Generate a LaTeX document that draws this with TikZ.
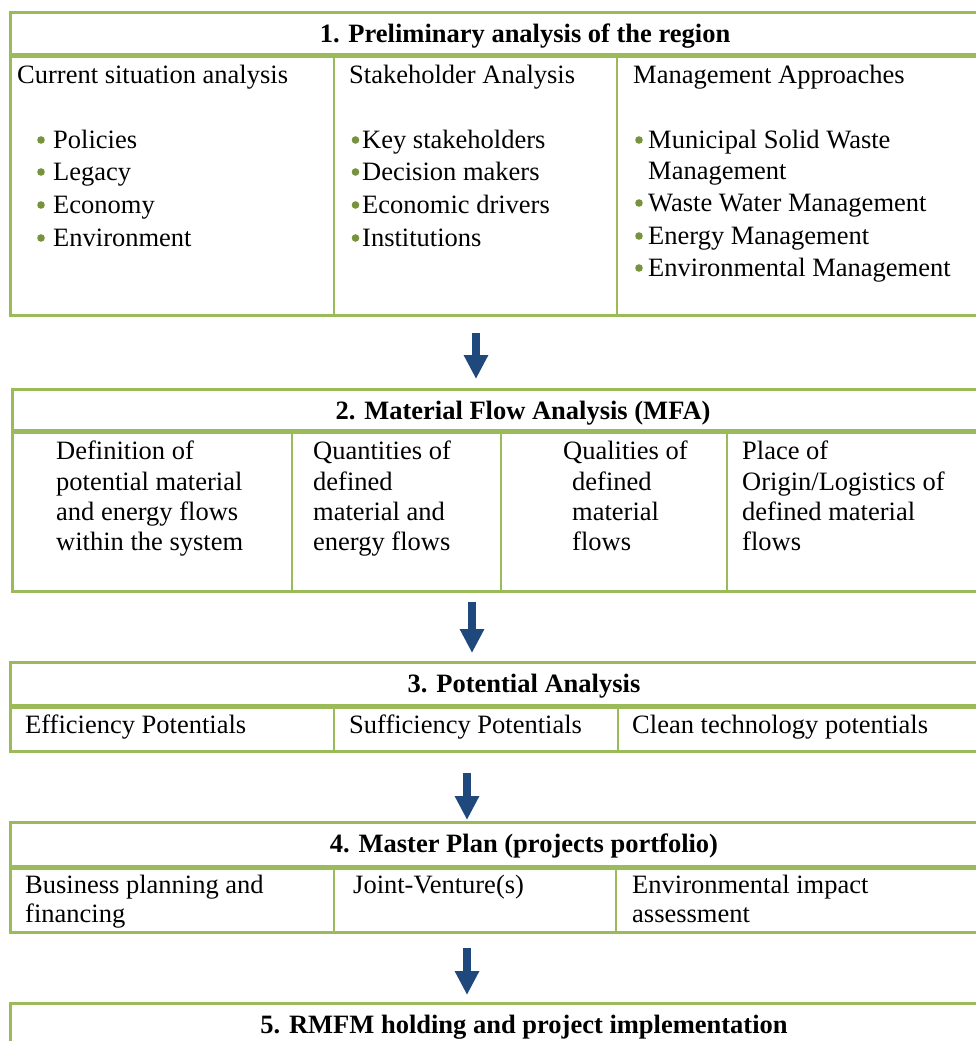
\documentclass[tikz,border=0pt]{standalone}
\usepackage{fontspec}
\setmainfont{Liberation Serif}
\usetikzlibrary{arrows.meta}
\definecolor{tgreen}{RGB}{155,187,89}
\definecolor{bgreen}{RGB}{119,147,60}
\definecolor{ablue}{RGB}{31,73,125}
\tikzset{
  outer/.style={draw=tgreen, line width=3pt},
  sepline/.style={draw=tgreen, line width=5pt},
  divline/.style={draw=tgreen, line width=2.5pt},
  txt/.style={anchor=base west, inner sep=0pt, font=\fontsize{26.5}{32.5}\selectfont},
  head/.style={anchor=base, inner sep=0pt, font=\fontsize{26.5}{32.5}\selectfont\bfseries},
  bul/.style={fill=bgreen, draw=none},
  flowarrow/.style={draw=ablue, line width=8pt, -{Triangle[width=23pt,length=24pt]}, shorten >=0pt}
}
\begin{document}
\begin{tikzpicture}[x=1pt,y=-1pt]
\useasboundingbox (0,0) rectangle (976,1041);
\clip (0,0) rectangle (976,1041);
% ---------- Box 1 ----------
\draw[outer] (990,13) -- (10,13) -- (10,315) -- (990,315);
\draw[sepline] (10,56) -- (990,56);
\draw[divline] (334,56) -- (334,315);
\draw[divline] (617,56) -- (617,315);
\node[head] (h1) at (525,43) {1. Preliminary analysis of the region};
\node[txt] (c11) at (17,84) {Current situation analysis};
\node[txt] (c11a) at (53,148) {Policies};
\node[txt] (c11b) at (53,180) {Legacy};
\node[txt] (c11c) at (53,213) {Economy};
\node[txt] (c11d) at (53,246) {Environment};
\foreach \y in {148,180,213,246} \fill[bul] (41,\y-8) circle (3.8);
\node[txt] (c12) at (349,84) {Stakeholder Analysis};
\node[txt] (c12a) at (362,148) {Key stakeholders};
\node[txt] (c12b) at (362,180) {Decision makers};
\node[txt] (c12c) at (362,213) {Economic drivers};
\node[txt] (c12d) at (362,246) {Institutions};
\foreach \y in {148,180,213,246} \fill[bul] (355.5,\y-8) circle (3.8);
\node[txt] (c13) at (633,84) {Management Approaches};
\node[txt] (c13a) at (648,148) {Municipal Solid Waste};
\node[txt] (c13b) at (648,179) {Management};
\node[txt] (c13c) at (648,211) {Waste Water Management};
\node[txt] (c13d) at (648,244) {Energy Management};
\node[txt] (c13e) at (648,276) {Environmental Management};
\foreach \y in {148,211,244,276} \fill[bul] (639,\y-8) circle (3.8);
% ---------- Box 2 ----------
\draw[outer] (990,389) -- (12,389) -- (12,591) -- (990,591);
\draw[sepline] (12,431) -- (990,431);
\draw[divline] (292,431) -- (292,591);
\draw[divline] (501,431) -- (501,591);
\draw[divline] (727,431) -- (727,591);
\node[head] (h2) at (523,419) {2. Material Flow Analysis (MFA)};
\node[txt] (c21a) at (56,459) {Definition of};
\node[txt] (c21b) at (56,490) {potential material};
\node[txt] (c21c) at (56,520) {and energy flows};
\node[txt] (c21d) at (56,550) {within the system};
\node[txt] (c22a) at (313,459) {Quantities of};
\node[txt] (c22b) at (313,490) {defined};
\node[txt] (c22c) at (313,520) {material and};
\node[txt] (c22d) at (313,550) {energy flows};
\node[txt] (c23a) at (563,459) {Qualities of};
\node[txt] (c23b) at (572,490) {defined};
\node[txt] (c23c) at (572,520) {material};
\node[txt] (c23d) at (572,550) {flows};
\node[txt] (c24a) at (742,459) {Place of};
\node[txt] (c24b) at (742,490) {Origin/Logistics of};
\node[txt] (c24c) at (742,520) {defined material};
\node[txt] (c24d) at (742,550) {flows};
% ---------- Box 3 ----------
\draw[outer] (990,662) -- (10,662) -- (10,751) -- (990,751);
\draw[sepline] (10,706) -- (990,706);
\draw[divline] (334,706) -- (334,751);
\draw[divline] (618,706) -- (618,751);
\node[head] (h3) at (524,692) {3. Potential Analysis};
\node[txt] (c31) at (25,733) {Efficiency Potentials};
\node[txt] (c32) at (349,733) {Sufficiency Potentials};
\node[txt] (c33) at (632,733) {Clean technology potentials};
% ---------- Box 4 ----------
\draw[outer] (990,822) -- (10,822) -- (10,932) -- (990,932);
\draw[sepline] (10,867) -- (990,867);
\draw[divline] (334,867) -- (334,932);
\draw[divline] (616,867) -- (616,932);
\node[head] (h4) at (524,852) {4. Master Plan (projects portfolio)};
\node[txt] (c41a) at (25,893) {Business planning and};
\node[txt] (c41b) at (25,922) {financing};
\node[txt] (c42) at (353,893) {Joint-Venture(s)};
\node[txt] (c43a) at (632,893) {Environmental impact};
\node[txt] (c43b) at (632,922) {assessment};
% ---------- Box 5 ----------
\draw[outer] (990,1003) -- (10,1003) -- (10,1060);
\node[head] (h5) at (524,1033) {5. RMFM holding and project implementation};
% ---------- Arrows ----------
\coordinate (a1s) at (476,333); \coordinate (a1e) at (476,379);
\coordinate (a2s) at (472,602); \coordinate (a2e) at (472,653);
\coordinate (a3s) at (467,773); \coordinate (a3e) at (467,820);
\coordinate (a4s) at (467,948); \coordinate (a4e) at (467,995);
\draw[flowarrow] (a1s) -- (a1e);
\draw[flowarrow] (a2s) -- (a2e);
\draw[flowarrow] (a3s) -- (a3e);
\draw[flowarrow] (a4s) -- (a4e);
\end{tikzpicture}
\end{document}
